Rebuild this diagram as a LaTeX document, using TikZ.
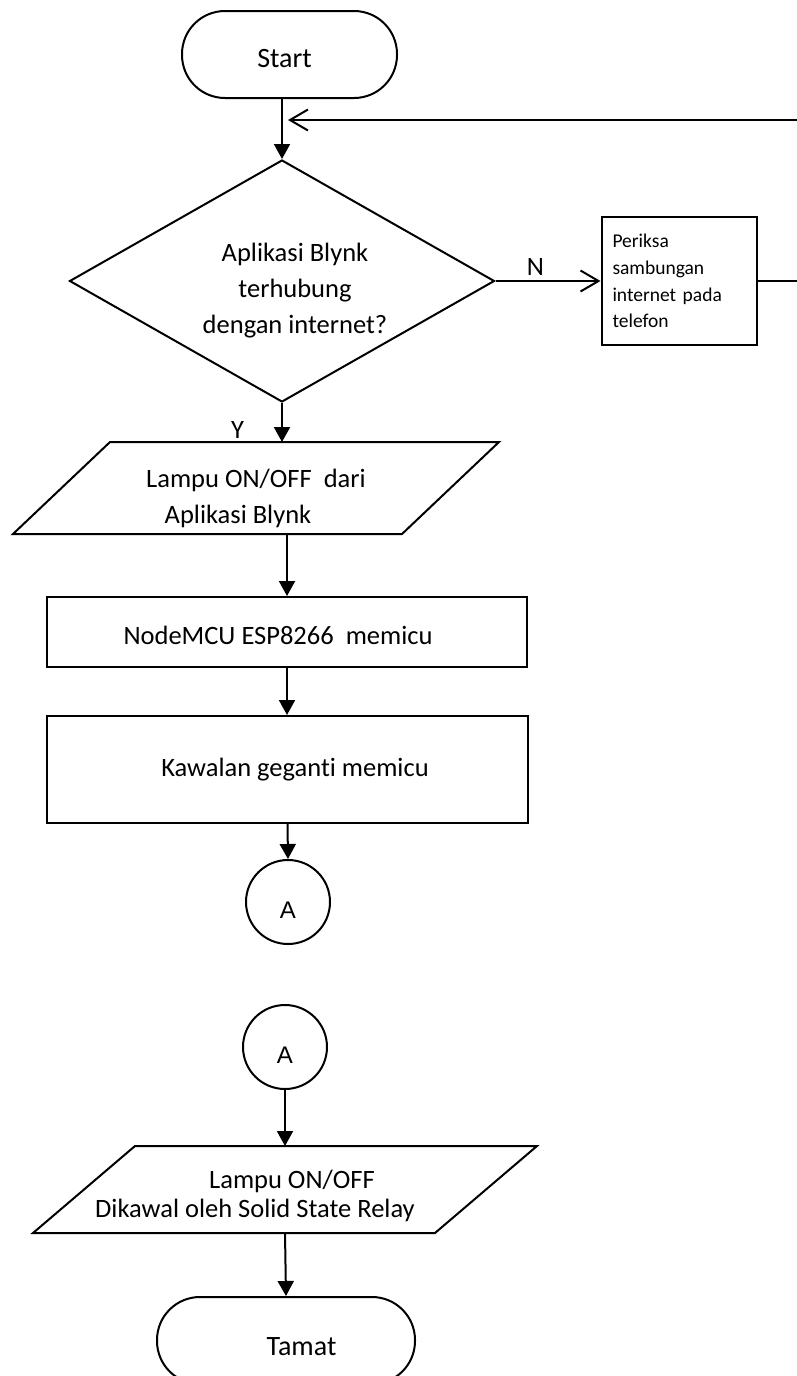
\documentclass[tikz,border=0pt]{standalone}
\usepackage{fontspec}
\setmainfont{Carlito}[Ligatures=NoCommon]
\newfontfamily\conafont{Liberation Sans}
\usetikzlibrary{calc, arrows.meta, positioning, shapes.geometric}

\begin{document}
\begin{tikzpicture}[
    x=1pt, y=-1pt,
    line width=2pt,
    terminal/.style={
        rectangle, draw=black, rounded corners=43pt,
        minimum height=87pt,
        font=\fontsize{28}{34}\selectfont
    },
    decision/.style={
        diamond, draw=black, aspect=1.75, inner sep=0pt,
        minimum width=425pt, minimum height=242pt,
        align=center, font=\fontsize{26.5}{36}\selectfont
    },
    process/.style={
        rectangle, draw=black, minimum width=480pt,
        align=center, font=\fontsize{26.5}{32}\selectfont
    },
    iobody/.style={
        rectangle, inner sep=2pt, outer sep=0pt,
        align=center, font=\fontsize{26.5}{36}\selectfont
    },
    note/.style={
        rectangle, draw=black, minimum width=155pt, minimum height=128pt,
        text width=133pt, align=left, inner xsep=11pt,
        font=\fontsize{19.5}{26.7}\selectfont
    },
    connector/.style={
        circle, draw=black, minimum size=84pt, inner sep=0pt,
        text height=32pt, font=\conafont\fontsize{24}{28}\selectfont
    },
    tag/.style={inner sep=0pt, font=\fontsize{26.5}{30}\selectfont},
    arr/.style={-{Triangle[length=15pt, width=16pt]}},
    barb/.style={-{Straight Barb[length=18pt, width=21pt]}},
]
\useasboundingbox (0,0) rectangle (797,1376);

% Start and the first check
\node[terminal, minimum width=215pt] (start) at (289.5,54.5)
    {\rule{0pt}{26pt}Start\hspace*{10pt}};
\node[decision] (dec) at (282,281)
    {\hspace*{26pt}\rule{0pt}{38pt}Aplikasi Blynk\\\hspace*{26pt}terhubung\\\hspace*{26pt}dengan internet?};

% N branch: check the phone
\node[note, right=105pt of dec] (periksa) {Periksa\\sambungan\\internet pada\\telefon};
\coordinate (edge) at (802,120);
\coordinate (back) at (288,120);

% Input from the app (parallelogram drawn round the body)
\node[iobody, minimum width=389pt, minimum height=92pt] (io1) at (256,488)
    {\rule{0pt}{39pt}Lampu ON/OFF\ \ dari\\Aplikasi Blynk\hspace*{36pt}};
\draw ($(io1.north west)+(48.5,0)$) -- ($(io1.north east)+(48.5,0)$)
    -- ($(io1.south east)+(-48.5,0)$) -- ($(io1.south west)+(-48.5,0)$) -- cycle;

% Processing steps
\node[process, minimum height=70pt] (proc1) at (287,632)
    {\rule{0pt}{26pt}NodeMCU ESP8266\ \ memicu\hspace*{18pt}};
\node[process, minimum width=481pt, minimum height=107pt] (proc2) at (287.5,769.5)
    {\hspace*{15pt}Kawalan geganti memicu};

% Off-page connectors
\node[connector] (conA1) at (288,902) {A};
\node[connector] (conA2) at (285,1047) {A};

% Output to the lamp
\node[iobody, minimum width=402pt, minimum height=87pt, font=\fontsize{26.5}{29}\selectfont] (io2) at (285,1189.5)
    {\hspace*{14pt}\rule{0pt}{32pt}Lampu ON/OFF\\Dikawal oleh Solid State Relay\hspace*{60pt}};
\draw ($(io2.north west)+(51,0)$) -- ($(io2.north east)+(51,0)$)
    -- ($(io2.south east)+(-51,0)$) -- ($(io2.south west)+(-51,0)$) -- cycle;

\node[terminal, minimum width=258pt] (tamat) at (286,1340.5)
    {\hspace*{31pt}\rule{0pt}{30pt}Tamat};

% Connecting lines
\draw[arr] (start.south -| dec.north) -- (dec.north);
\draw[barb] (dec.east) -- (dec.east -| periksa.west)
    node[tag, pos=0.38, above=5pt] {N};
\draw[barb] (periksa.east) -| (edge) -- (back);
\draw[arr] (dec.south) -- (dec.south |- io1.north)
    node[tag, pos=0.7, left=37pt] {Y};
\draw[arr] (proc1.north |- io1.south) -- (proc1.north);
\draw[arr] (proc1.south) -- (proc1.south |- proc2.north);
\draw[arr] (proc2.south) -- (conA1.north);
\draw[arr] (conA2.south) -- (conA2.south |- io2.north);
\draw[arr] (io2.south) -- (tamat.north);

\end{tikzpicture}
\end{document}
